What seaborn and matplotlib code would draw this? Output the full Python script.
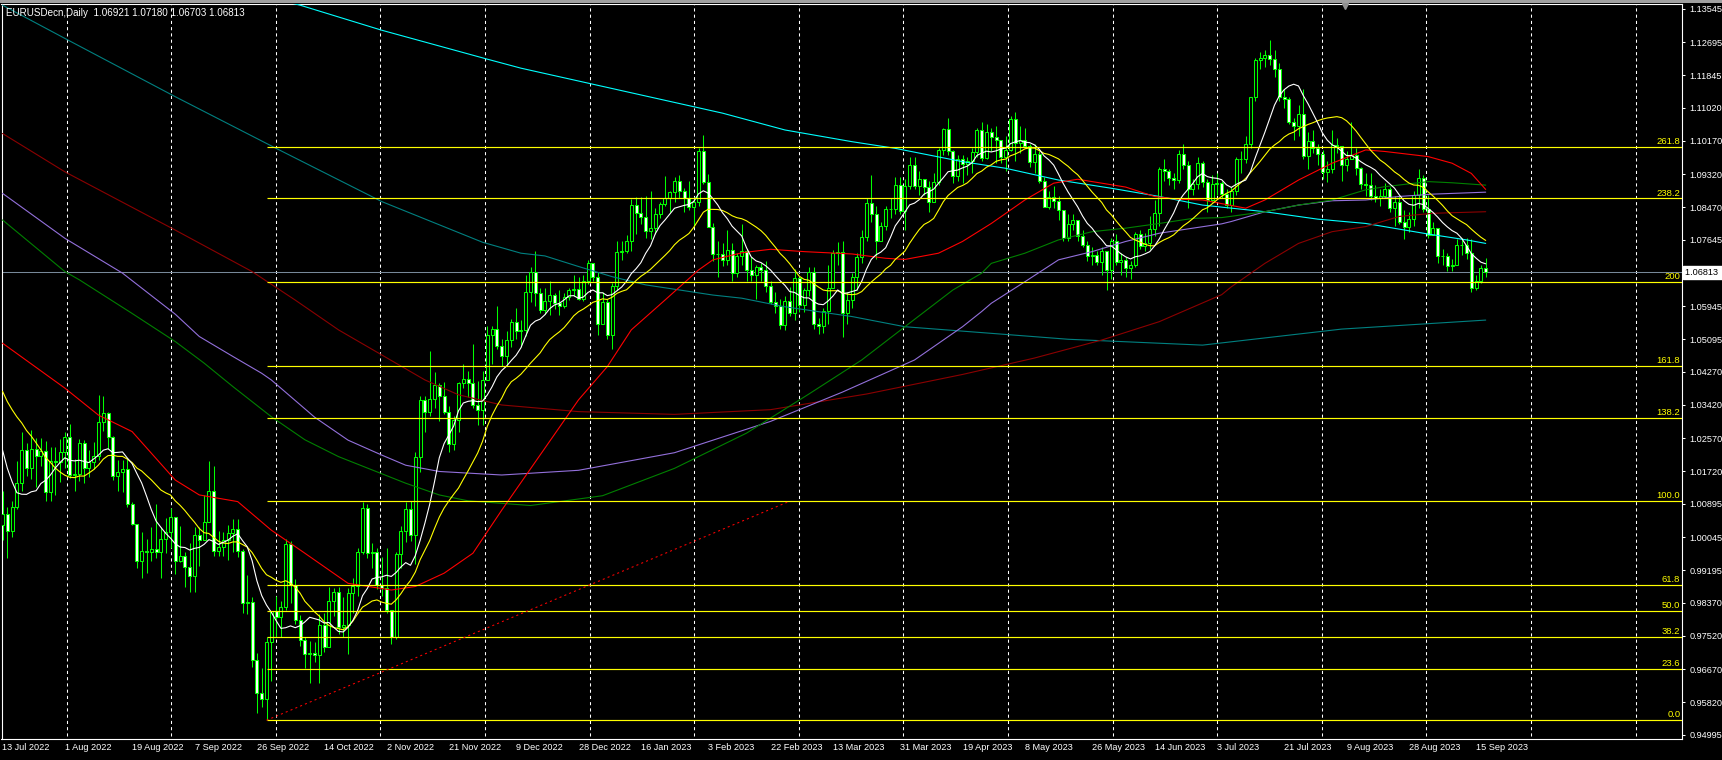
import numpy as np
import pandas as pd
import seaborn as sns
import matplotlib
matplotlib.use('Agg')
import matplotlib.pyplot as plt
from matplotlib.patches import Rectangle
from matplotlib.transforms import blended_transform_factory

# ---------------- data ----------------
symbol_text = 'EURUSDecn,Daily  1.06921 1.07180 1.06703 1.06813'
last_date = '2023-09-19'
bid = 1.06813

# closes before the first visible bar (warm-up for the fast averages)
pre_closes = [1.0445, 1.0548, 1.0495, 1.0510, 1.0535, 1.0568, 1.0521, 1.0554, 1.0583, 1.0518,
              1.0442, 1.0484, 1.0426, 1.0424, 1.0266, 1.0183, 1.0163, 1.0185, 1.0040, 1.0036]

closes = [
    1.0063, 1.0019, 1.0080,
    1.0142, 1.0227, 1.0180, 1.0229, 1.0212,
    1.0225, 1.0119, 1.0199, 1.0196, 1.0222,
    1.0261, 1.0162, 1.0166, 1.0245, 1.0182,
    1.0196, 1.0211, 1.0298, 1.0321, 1.0259,
    1.0160, 1.0170, 1.0178, 1.0089, 1.0038,
    0.9942, 0.9969, 0.9967, 0.9974, 0.9965,
    1.0000, 1.0017, 1.0055, 0.9944, 0.9956,
    0.9929, 0.9905, 1.0010, 0.9998, 1.0043,
    1.0121, 0.9969, 0.9980, 0.9997, 1.0015,
    1.0026, 0.9969, 0.9835, 0.9838, 0.9690,
    0.9607, 0.9591, 0.9737, 0.9815, 0.9801,
    0.9826, 0.9986, 0.9882, 0.9792, 0.9741,
    0.9705, 0.9708, 0.9703, 0.9780, 0.9723,
    0.9840, 0.9863, 0.9775, 0.9780, 0.9862,
    0.9878, 0.9965, 1.0078, 0.9964, 0.9966,
    0.9882, 0.9875, 0.9817, 0.9750, 0.9962,
    1.0021, 1.0075, 1.0010, 1.0210, 1.0355,
    1.0325, 1.0356, 1.0393, 1.0364, 1.0325,
    1.0242, 1.0304, 1.0397, 1.0409, 1.0398,
    1.0343, 1.0330, 1.0406, 1.0522, 1.0536,
    1.0493, 1.0467, 1.0508, 1.0555, 1.0530,
    1.0534, 1.0631, 1.0683, 1.0627, 1.0585,
    1.0607, 1.0622, 1.0603, 1.0596, 1.0618,
    1.0636, 1.0638, 1.0614, 1.0660, 1.0705,
    1.0669, 1.0548, 1.0605, 1.0522, 1.0645,
    1.0732, 1.0735, 1.0762, 1.0854, 1.0833,
    1.0822, 1.0788, 1.0795, 1.0831, 1.0856,
    1.0870, 1.0886, 1.0914, 1.0890, 1.0870,
    1.0847, 1.0862, 1.0990, 1.0911, 1.0796,
    1.0728, 1.0728, 1.0712, 1.0737, 1.0680,
    1.0724, 1.0736, 1.0688, 1.0674, 1.0695,
    1.0687, 1.0645, 1.0605, 1.0596, 1.0546,
    1.0607, 1.0576, 1.0666, 1.0597, 1.0635,
    1.0682, 1.0548, 1.0545, 1.0582, 1.0641,
    1.0731, 1.0733, 1.0577, 1.0610, 1.0670,
    1.0719, 1.0771, 1.0859, 1.0830, 1.0760,
    1.0800, 1.0844, 1.0843, 1.0905, 1.0839,
    1.0901, 1.0955, 1.0903, 1.0920, 1.0900,
    1.0861, 1.0911, 1.0993, 1.1047, 1.0991,
    1.0927, 1.0972, 1.0958, 1.0965, 1.0988,
    1.1046, 1.0973, 1.1041, 1.1027, 1.1019,
    1.0975, 1.0995, 1.1072, 1.1011, 1.1019,
    1.1005, 1.0962, 1.0983, 1.0915, 1.0849,
    1.0873, 1.0863, 1.0841, 1.0768, 1.0805,
    1.0814, 1.0773, 1.0752, 1.0724, 1.0725,
    1.0708, 1.0735, 1.0687, 1.0762, 1.0708,
    1.0712, 1.0693, 1.0699, 1.0780, 1.0749,
    1.0756, 1.0792, 1.0832, 1.0944, 1.0939,
    1.0923, 1.0918, 1.0983, 1.0956, 1.0894,
    1.0907, 1.0960, 1.0912, 1.0866, 1.0908,
    1.0910, 1.0882, 1.0852, 1.0890, 1.0970,
    1.0970, 1.1010, 1.1129, 1.1224, 1.1229,
    1.1237, 1.1226, 1.1200, 1.1128, 1.1125,
    1.1065, 1.1056, 1.1085, 1.0978, 1.1016,
    1.0998, 1.0983, 1.0937, 1.0946, 1.1006,
    1.1003, 1.0956, 1.0972, 1.0982, 1.0947,
    1.0906, 1.0905, 1.0875, 1.0871, 1.0875,
    1.0894, 1.0846, 1.0862, 1.0809, 1.0796,
    1.0817, 1.0880, 1.0922, 1.0843, 1.0776,
    1.0795, 1.0723, 1.0724, 1.0697, 1.0700,
    1.0751, 1.0750, 1.0731, 1.0642, 1.0660,
    1.0692, 1.06813,
]

highs = [
    1.0122, 1.0080, 1.0096,
    1.0200, 1.0272, 1.0245, 1.0278, 1.0257,
    1.0258, 1.0249, 1.0234, 1.0234, 1.0254,
    1.0274, 1.0293, 1.0203, 1.0254, 1.0253,
    1.0226, 1.0248, 1.0368, 1.0364, 1.0325,
    1.0262, 1.0202, 1.0202, 1.0203, 1.0093,
    1.0033, 1.0018, 0.9999, 1.0030, 1.0090,
    1.0030, 1.0054, 1.0079, 1.0054, 1.0033,
    0.9966, 0.9990, 1.0030, 1.0030, 1.0113,
    1.0198, 1.0187, 1.0020, 1.0018, 1.0036,
    1.0050, 1.0050, 0.9975, 0.9907, 0.9852,
    0.9708, 0.9670, 0.9748, 0.9815, 0.9854,
    0.9840, 0.9999, 0.9994, 0.9897, 0.9804,
    0.9750, 0.9738, 0.9737, 0.9808, 0.9809,
    0.9876, 0.9874, 0.9876, 0.9850, 0.9873,
    0.9899, 0.9976, 1.0094, 1.0088, 0.9989,
    0.9976, 0.9954, 0.9976, 0.9819, 0.9966,
    1.0033, 1.0093, 1.0096, 1.0222, 1.0365,
    1.0364, 1.0481, 1.0426, 1.0397, 1.0400,
    1.0339, 1.0315, 1.0400, 1.0448, 1.0430,
    1.0497, 1.0404, 1.0429, 1.0545, 1.0544,
    1.0594, 1.0510, 1.0530, 1.0561, 1.0589,
    1.0560, 1.0673, 1.0694, 1.0736, 1.0640,
    1.0640, 1.0660, 1.0628, 1.0636, 1.0628,
    1.0640, 1.0673, 1.0668, 1.0674, 1.0713,
    1.0705, 1.0683, 1.0630, 1.0612, 1.0654,
    1.0760, 1.0760, 1.0777, 1.0868, 1.0874,
    1.0874, 1.0875, 1.0888, 1.0845, 1.0862,
    1.0927, 1.0890, 1.0925, 1.0930, 1.0897,
    1.0914, 1.0873, 1.1000, 1.1033, 1.0933,
    1.0807, 1.0760, 1.0757, 1.0790, 1.0755,
    1.0730, 1.0805, 1.0740, 1.0720, 1.0700,
    1.0705, 1.0710, 1.0660, 1.0630, 1.0612,
    1.0620, 1.0644, 1.0690, 1.0670, 1.0640,
    1.0694, 1.0695, 1.0565, 1.0590, 1.0700,
    1.0737, 1.0758, 1.0760, 1.0630, 1.0680,
    1.0730, 1.0790, 1.0870, 1.0930, 1.0850,
    1.0810, 1.0850, 1.0870, 1.0925, 1.0925,
    1.0920, 1.0975, 1.0975, 1.0940, 1.0920,
    1.0915, 1.0935, 1.0998, 1.1050, 1.1075,
    1.0995, 1.0980, 1.0980, 1.0975, 1.1000,
    1.1050, 1.1065, 1.1060, 1.1050, 1.1055,
    1.1020, 1.1030, 1.1080, 1.1090, 1.1055,
    1.1050, 1.1010, 1.1010, 1.0990, 1.0925,
    1.0890, 1.0902, 1.0875, 1.0840, 1.0829,
    1.0830, 1.0815, 1.0790, 1.0760, 1.0745,
    1.0735, 1.0745, 1.0735, 1.0770, 1.0780,
    1.0730, 1.0720, 1.0710, 1.0785, 1.0790,
    1.0782, 1.0825, 1.0865, 1.0950, 1.0971,
    1.0945, 1.0935, 1.0995, 1.1010, 1.0965,
    1.0920, 1.0975, 1.0965, 1.0920, 1.0930,
    1.0935, 1.0915, 1.0895, 1.0900, 1.0975,
    1.0990, 1.1030, 1.1130, 1.1230, 1.1245,
    1.1250, 1.1276, 1.1250, 1.1215, 1.1150,
    1.1130, 1.1075, 1.1110, 1.1150, 1.1040,
    1.1045, 1.1010, 1.0995, 1.0965, 1.1045,
    1.1025, 1.1000, 1.0990, 1.1065, 1.1000,
    1.0950, 1.0935, 1.0935, 1.0905, 1.0895,
    1.0910, 1.0900, 1.0875, 1.0875, 1.0840,
    1.0835, 1.0890, 1.0945, 1.0930, 1.0880,
    1.0810, 1.0795, 1.0740, 1.0730, 1.0715,
    1.0765, 1.0770, 1.0770, 1.0765, 1.0675,
    1.0700, 1.07180,
]

lows = [
    0.9998, 0.9952, 1.0005,
    1.0075, 1.0123, 1.0160, 1.0152, 1.0132,
    1.0185, 1.0096, 1.0097, 1.0113, 1.0145,
    1.0180, 1.0155, 1.0122, 1.0148, 1.0142,
    1.0158, 1.0179, 1.0202, 1.0275, 1.0230,
    1.0150, 1.0122, 1.0120, 1.0081, 1.0034,
    0.9926, 0.9900, 0.9912, 0.9943, 0.9950,
    0.9900, 0.9964, 0.9976, 0.9910, 0.9940,
    0.9877, 0.9864, 0.9864, 0.9930, 1.0002,
    1.0045, 0.9955, 0.9955, 0.9956, 0.9945,
    0.9967, 0.9954, 0.9811, 0.9807, 0.9672,
    0.9554, 0.9570, 0.9536, 0.9636, 0.9750,
    0.9749, 0.9818, 0.9835, 0.9782, 0.9727,
    0.9670, 0.9631, 0.9686, 0.9632, 0.9711,
    0.9724, 0.9802, 0.9756, 0.9750, 0.9705,
    0.9810, 0.9853, 0.9960, 0.9950, 0.9925,
    0.9871, 0.9853, 0.9810, 0.9730, 0.9745,
    0.9925, 0.9992, 0.9993, 0.9936, 1.0170,
    1.0272, 1.0314, 1.0333, 1.0302, 1.0320,
    1.0223, 1.0226, 1.0273, 1.0385, 1.0362,
    1.0334, 1.0290, 1.0290, 1.0406, 1.0447,
    1.0484, 1.0442, 1.0443, 1.0490, 1.0510,
    1.0490, 1.0518, 1.0606, 1.0596, 1.0577,
    1.0575, 1.0573, 1.0588, 1.0573, 1.0590,
    1.0610, 1.0620, 1.0610, 1.0608, 1.0652,
    1.0658, 1.0520, 1.0548, 1.0510, 1.0484,
    1.0635, 1.0713, 1.0730, 1.0735, 1.0780,
    1.0805, 1.0768, 1.0766, 1.0780, 1.0820,
    1.0850, 1.0835, 1.0860, 1.0870, 1.0836,
    1.0840, 1.0800, 1.0850, 1.0906, 1.0796,
    1.0710, 1.0670, 1.0698, 1.0700, 1.0660,
    1.0670, 1.0700, 1.0660, 1.0660, 1.0612,
    1.0660, 1.0630, 1.0600, 1.0577, 1.0535,
    1.0533, 1.0570, 1.0560, 1.0580, 1.0580,
    1.0620, 1.0535, 1.0524, 1.0525, 1.0550,
    1.0650, 1.0700, 1.0516, 1.0550, 1.0590,
    1.0635, 1.0705, 1.0760, 1.0810, 1.0715,
    1.0760, 1.0790, 1.0820, 1.0830, 1.0830,
    1.0790, 1.0895, 1.0895, 1.0880, 1.0880,
    1.0835, 1.0860, 1.0905, 1.0980, 1.0980,
    1.0910, 1.0915, 1.0910, 1.0930, 1.0935,
    1.0975, 1.0965, 1.0970, 1.0990, 1.0960,
    1.0960, 1.0940, 1.0990, 1.0965, 1.0985,
    1.0998, 1.0950, 1.0935, 1.0910, 1.0850,
    1.0842, 1.0845, 1.0815, 1.0760, 1.0760,
    1.0790, 1.0760, 1.0745, 1.0710, 1.0700,
    1.0700, 1.0675, 1.0635, 1.0665, 1.0700,
    1.0675, 1.0670, 1.0665, 1.0695, 1.0740,
    1.0735, 1.0740, 1.0775, 1.0800, 1.0915,
    1.0905, 1.0895, 1.0910, 1.0945, 1.0845,
    1.0880, 1.0895, 1.0900, 1.0835, 1.0860,
    1.0880, 1.0870, 1.0845, 1.0835, 1.0880,
    1.0935, 1.0960, 1.1000, 1.1120, 1.1200,
    1.1205, 1.1210, 1.1180, 1.1120, 1.1100,
    1.1060, 1.1020, 1.1030, 1.0970, 1.0945,
    1.0985, 1.0955, 1.0920, 1.0912, 1.0935,
    1.0985, 1.0915, 1.0940, 1.0970, 1.0930,
    1.0895, 1.0875, 1.0865, 1.0860, 1.0850,
    1.0870, 1.0835, 1.0800, 1.0805, 1.0765,
    1.0785, 1.0800, 1.0845, 1.0835, 1.0770,
    1.0780, 1.0705, 1.0700, 1.0685, 1.0685,
    1.0700, 1.0725, 1.0715, 1.0632, 1.0635,
    1.0655, 1.06703,
]

# slow averages, read at bar positions from the chart
red_bars = [0, 13, 20, 27, 36, 41, 49, 56, 63, 72, 81, 86, 92, 98, 104, 120, 126, 131, 138, 145, 148,
            154, 160, 167, 177, 184, 188, 195, 200, 206, 213, 219, 224, 229, 234, 240, 245, 250, 259,
            263, 270, 277, 284, 288, 297, 302, 306, 309]
red_vals = [1.0500, 1.0385, 1.0316, 1.0274, 1.0150, 1.0112, 1.0095, 1.0022, 0.9963, 0.9886, 0.9869,
            0.9878, 0.9912, 0.9963, 1.0073, 1.0355, 1.0440, 1.0534, 1.0610, 1.0687, 1.0713, 1.0731,
            1.0740, 1.0734, 1.0728, 1.0717, 1.0714, 1.0730, 1.0760, 1.0806, 1.0866, 1.0909, 1.0919,
            1.0909, 1.0899, 1.0875, 1.0868, 1.0866, 1.0845, 1.0866, 1.0917, 1.0960, 1.0994, 1.0990,
            1.0977, 1.0960, 1.0934, 1.0893]

green_bars = [0, 13, 16, 27, 36, 42, 48, 56, 63, 70, 77, 84, 91, 97, 110, 125, 140, 155, 168, 179,
              188, 198, 204, 206, 213, 220, 227, 234, 241, 248, 254, 263, 270, 277, 284, 288, 297,
              302, 309]
green_vals = [1.0815, 1.0683, 1.0662, 1.0576, 1.0504, 1.0449, 1.0389, 1.0312, 1.0253, 1.0210, 1.0176,
              1.0142, 1.0112, 1.0097, 1.0085, 1.0110, 1.0180, 1.0270, 1.0370, 1.0457, 1.0542, 1.0636,
              1.0679, 1.0704, 1.0730, 1.0764, 1.0785, 1.0794, 1.0806, 1.0819, 1.0821, 1.0836, 1.0853,
              1.0866, 1.0892, 1.0900, 1.0913, 1.0910, 1.0904]

purple_bars = [0, 13, 25, 36, 41, 48, 54, 56, 65, 72, 79, 84, 91, 104, 120, 140, 160, 175, 190, 200,
               204, 206, 213, 220, 227, 234, 241, 248, 254, 256, 263, 270, 277, 284, 291, 298, 309]
purple_vals = [1.0883, 1.0768, 1.0679, 1.0574, 1.0517, 1.0466, 1.0423, 1.0406, 1.0311, 1.0252,
               1.0214, 1.0188, 1.0172, 1.0163, 1.0175, 1.0220, 1.0300, 1.0375, 1.0457, 1.0542,
               1.0581, 1.0602, 1.0657, 1.0713, 1.0734, 1.0760, 1.0781, 1.0794, 1.0805, 1.0811,
               1.0836, 1.0853, 1.0864, 1.0866, 1.0875, 1.0881, 1.0886]

maroon_bars = [0, 13, 36, 52, 61, 70, 79, 88, 95, 104, 120, 140, 160, 180, 200, 215, 229, 241, 254,
               256, 263, 270, 277, 284, 291, 298, 309]
maroon_vals = [1.1036, 1.0938, 1.0789, 1.0683, 1.0610, 1.0534, 1.0470, 1.0406, 1.0368, 1.0342,
               1.0325, 1.0318, 1.0330, 1.0370, 1.0420, 1.0462, 1.0508, 1.0555, 1.0624, 1.0644,
               1.0704, 1.0755, 1.0785, 1.0798, 1.0824, 1.0832, 1.0836]

teal_bars = [0, 13, 36, 57, 79, 100, 108, 113, 120, 127, 134, 141, 148, 154, 163, 177, 188, 204, 222,
             250, 279, 309]
teal_vals = [1.1364, 1.1279, 1.1130, 1.0998, 1.0862, 1.0758, 1.0730, 1.0723, 1.0696, 1.0670, 1.0649,
             1.0636, 1.0623, 1.0615, 1.0593, 1.0568, 1.0542, 1.0527, 1.0510, 1.0495, 1.0536, 1.0559]

cyan_bars = [50, 62, 79, 101, 108, 150, 163, 177, 186, 200, 209, 220, 231, 241, 250, 263, 274, 284,
             297, 305, 309]
cyan_vals = [1.1400, 1.1364, 1.1300, 1.1226, 1.1203, 1.1088, 1.1045, 1.1015, 1.0998, 1.0964, 1.0947,
             1.0917, 1.0896, 1.0875, 1.0853, 1.0836, 1.0817, 1.0806, 1.0779, 1.0764, 1.0755]

# fibonacci retracement object
fib_low, fib_high = 0.9536, 1.0096
fib_bar_low, fib_bar_high = 55, 164
fib_levels = [0.0, 23.6, 38.2, 50.0, 61.8, 100.0, 138.2, 161.8, 200.0, 238.2, 261.8]
fib_labels = ['0.0', '23.6', '38.2', '50.0', '61.8', '100.0', '138.2', '161.8', '200', '238.2', '261.8']

price_ticks = [1.13545, 1.12695, 1.11845, 1.11020, 1.10170, 1.09320, 1.08470, 1.07645, 1.05945,
               1.05095, 1.04270, 1.03420, 1.02570, 1.01720, 1.00895, 1.00045, 0.99195, 0.98370,
               0.97520, 0.96670, 0.95820, 0.94995]

label_dates = ['2022-07-13', '2022-08-01', '2022-08-19', '2022-09-07', '2022-09-26', '2022-10-14',
               '2022-11-02', '2022-11-21', '2022-12-09', '2022-12-28', '2023-01-16', '2023-02-03',
               '2023-02-22', '2023-03-13', '2023-03-31', '2023-04-19', '2023-05-08', '2023-05-26',
               '2023-06-14', '2023-07-03', '2023-07-21', '2023-08-09', '2023-08-28', '2023-09-15']

# ---------------- drawing ----------------
sns.set_style('dark', {'axes.facecolor': 'black', 'figure.facecolor': 'black'})
plt.rcParams['font.family'] = ['Liberation Sans', 'DejaVu Sans']

n = len(closes)
dates = pd.bdate_range(end=last_date, periods=n)
x = np.arange(n)
c = np.array(closes)
o = np.array([pre_closes[-1]] + closes[:-1])
h = np.maximum(np.array(highs), np.maximum(o, c))
l = np.minimum(np.array(lows), np.minimum(o, c))

all_c = pd.Series(pre_closes + closes)
sma10 = all_c.rolling(10).mean().iloc[len(pre_closes):].to_numpy()
sma20 = all_c.rolling(20).mean().iloc[len(pre_closes):].to_numpy()

W, H = 1722, 760
ax_l, ax_r, ax_t, ax_b = 1.5, 1682.0, 4.0, 738.7
bar_px, bar0_px = 4.8, 2.5

fig = plt.figure(figsize=(W / 100, H / 100), dpi=100, facecolor='black')
ax = fig.add_axes([ax_l / W, 1 - ax_b / H, (ax_r - ax_l) / W, (ax_b - ax_t) / H])
ax.set_facecolor('black')
xmin, xmax = (ax_l - bar0_px) / bar_px, (ax_r - bar0_px) / bar_px
ax.set_xlim(xmin, xmax)
ax.set_ylim(0.94889, 1.13670)

lw = 0.75
lime = '#00FF00'

# vertical dashed grid
grid_x = np.arange(13.37, xmax, 21.79)
ax.vlines(grid_x, 0.9, 1.2, colors='white', linestyles=(0, (3, 3)), lw=lw, zorder=1)

# bid line
ax.axhline(bid, color='#778899', lw=lw, zorder=2)

# candles
ax.vlines(x, l, h, color=lime, lw=lw, zorder=3)
body_lo = np.minimum(o, c)
body_h = np.maximum(np.abs(c - o), 1e-5)
ax.bar(x, body_h, bottom=body_lo, width=0.62, color=np.where(c >= o, 'black', 'white'),
       edgecolor=lime, linewidth=lw, zorder=4)

# moving averages
def ma_line(xs, ys, color):
    sns.lineplot(x=xs, y=ys, ax=ax, color=color, linewidth=0.8, estimator=None,
                 sort=False, legend=False, zorder=5)

ma_line(cyan_bars, cyan_vals, '#00FFFF')
ma_line(teal_bars, teal_vals, '#008080')
ma_line(maroon_bars, maroon_vals, '#8B0000')
ma_line(purple_bars, purple_vals, '#9370DB')
ma_line(green_bars, green_vals, '#008000')
ma_line(red_bars, red_vals, '#FF0000')
ma_line(x, sma20, '#FFFF00')
ma_line(x, sma10, '#FFFFFF')

# fibonacci
rng = fib_high - fib_low
for lvl, lab in zip(fib_levels, fib_labels):
    yv = fib_low + lvl / 100.0 * rng
    ax.hlines(yv, fib_bar_low, xmax, color='#FFFF00', lw=0.85, zorder=6)
    ax.text(xmax - 0.35, yv + 0.0002, lab, ha='right', va='bottom', color='#FFFF00',
            fontsize=6.8, zorder=7)
ax.plot([fib_bar_low, fib_bar_high], [fib_low, fib_high], color='#FF0000', lw=lw,
        linestyle=(0, (2, 3)), zorder=6)

# axes frame
for sp in ax.spines.values():
    sp.set_visible(True)
    sp.set_color('white')
    sp.set_linewidth(0.8)

# price scale on the right
ax.yaxis.tick_right()
ax.set_yticks(price_ticks)
ax.set_yticklabels([f'{p:.5f}' for p in price_ticks])
ax.tick_params(axis='y', colors='white', length=2.5, width=lw, pad=3, labelsize=6.6,
               direction='out', left=False, right=True)
trans = blended_transform_factory(ax.transAxes, ax.transData)
ax.text(1 + 2.5 / (ax_r - ax_l), bid, '1.06813 ', transform=trans, ha='left', va='center',
        color='black', fontsize=6.6, zorder=10,
        bbox=dict(boxstyle='square,pad=0.2', fc='white', ec='white'))

# time scale
pos = dates.get_indexer(pd.to_datetime(label_dates))
ax.set_xticks(pos)
ax.set_xticklabels([f'{d.day} {d:%b %Y}' for d in pd.to_datetime(label_dates)], ha='left')
ax.set_xticks(grid_x, minor=True)
ax.tick_params(axis='x', which='major', colors='white', length=0, pad=3, labelsize=6.6)
ax.tick_params(axis='x', which='minor', colors='white', length=3, width=lw, direction='out')
ax.grid(False)
ax.set_xlabel('')
ax.set_ylabel('')

# header and window chrome
fig.text(6.5 / W, 1 - 13 / H, symbol_text, color='white', fontsize=7.1, ha='left', va='center')
fig.add_artist(Rectangle((0, 1 - 3 / H), 1, 3 / H, transform=fig.transFigure,
                         facecolor='#a0a0a0', edgecolor='none'))
ax.plot([(1345 - bar0_px) / bar_px], [1.1362], marker='v', ms=5, color='#909090',
        clip_on=False, zorder=10)

fig.savefig('out.png', dpi=100, facecolor='black')
